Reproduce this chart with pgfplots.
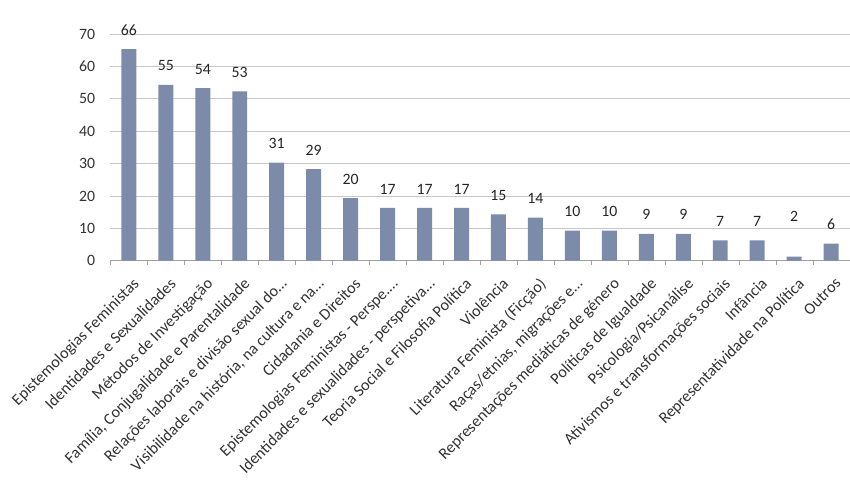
\documentclass[border=0pt]{standalone}
\usepackage{pgfplots}
\pgfplotsset{compat=1.18}
\usepackage{pgfplotstable}
\usepackage{fontspec}
\setmainfont{Carlito}
\definecolor{barc}{RGB}{124,139,170}
\definecolor{gridc}{RGB}{200,200,200}
\definecolor{txt}{RGB}{50,50,50}
\pgfplotstableread{
x y lab off
0 65.3 66 19
1 54.3 55 19
2 53.3 54 19
3 52.3 53 19
4 30.3 31 19
5 28.3 29 19
6 19.3 20 19
7 16.3 17 19
8 16.3 17 19
9 16.3 17 19
10 14.3 15 19
11 13.3 14 19
12 9.3 10 19
13 9.3 10 19
14 8.3 9 19
15 8.3 9 19
16 6.3 7 19
17 6.3 7 19
18 1.3 2 40
19 5.3 6 19
}\datatab
\begin{document}
\begin{tikzpicture}
\begin{axis}[
  scale only axis,
  width=740bp, height=227bp,
  xmin=-0.5, xmax=19.5,
  ymin=0, ymax=70,
  ytick={0,10,...,70},
  xtick={0,...,19},
  /pgf/number format/assume math mode=true,
  xticklabels={Epistemologias Feministas, Identidades e Sexualidades, Métodos de Investigação, {Família, Conjugalidade e Parentalidade}, Relações laborais e divisão sexual do…, {Visibilidade na história, na cultura e na…}, Cidadania e Direitos, Epistemologias Feministas - Perspe.…, Identidades e sexualidades - perspetiva…, Teoria Social e Filosofia Política, Violência, Literatura Feminista (Ficção), {Raças/etnias, migrações e…}, Representações mediáticas de género, Políticas de Igualdade, Psicologia/Psicanálise, Ativismos e transformações sociais, Infância, Representatividade na Política, Outros},
  minor xtick={-0.5,0.5,...,19.5},
  major tick length=0pt,
  minor tick length=4bp,
  xtick align=outside,
  tick style={draw=gridc!80!black},
  axis x line*=bottom,
  axis y line*=left,
  y axis line style={draw=none},
  x axis line style={draw=gridc!80!black, line width=0.8pt},
  ymajorgrids,
  major grid style={draw=gridc, line width=0.8pt},
  yticklabel style={font=\fontsize{15.8bp}{18bp}\selectfont, text=txt, inner sep=0pt, xshift=-15bp},
  xticklabel style={font=\fontsize{16.2bp}{19bp}\selectfont, text=txt, xshift=3bp, yshift=-16bp, rotate=45, anchor=north east, inner sep=0pt},
  ybar, bar width=15bp,
  clip=false,
]
\addplot[fill=barc, draw=none,
  point meta=explicit symbolic,
  visualization depends on={\thisrow{off} \as \off},
  nodes near coords,
  every node near coord/.append style={font=\fontsize{15.8bp}{18bp}\selectfont, text=black!85, anchor=center, yshift=\off bp, inner sep=0pt},
] table[x=x, y=y, meta=lab] {\datatab};
\end{axis}
\path (current axis.south west) ++(-110.5bp,-238bp) rectangle ++(850bp,499bp);
\end{tikzpicture}
\end{document}
